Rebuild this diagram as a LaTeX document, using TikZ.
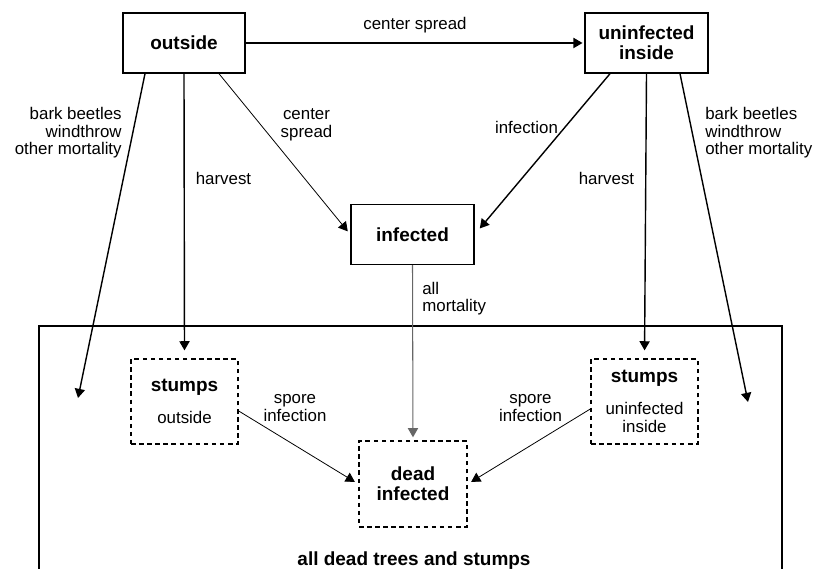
\documentclass[tikz,border=0pt]{standalone}
\usepackage{fontspec}
\setmainfont{Liberation Sans}
\usetikzlibrary{arrows.meta}

\newcommand{\poolname}[1]{{\fontsize{10.8}{11.5}\selectfont\bfseries #1}}

\tikzset{
	box/.style={draw, line width=0.8pt, minimum width=2.44cm, minimum height=1.2cm, align=center, font=\fontsize{10.8}{11.5}\selectfont\bfseries},
	pool/.style={draw, line width=0.8pt, dash pattern=on 2.6pt off 2pt, minimum width=2.14cm, minimum height=1.7cm, align=center, font=\fontsize{9.6}{10}\selectfont},
	flow/.style={line width=0.8pt, -{Triangle[length=5.2pt,width=5.8pt]}, shorten >=4.5pt},
	thinflow/.style={line width=0.45pt, -{Triangle[length=5.2pt,width=5.8pt]}, shorten >=2.3pt},
	lbl/.style={font=\fontsize{9.6}{10}\selectfont, align=center, inner sep=0pt}
}

\begin{document}
\begin{tikzpicture}
		\useasboundingbox (0,0) rectangle (16.28,11.38);
		
		% Arvores em pe
		\node[box] (outside) at (3.68,10.52) {outside};
		\node[box, minimum width=2.46cm] (uninf) at (12.93,10.52) {uninfected\\inside};
		\node[box, minimum width=2.46cm] (infected) at (8.25,6.69) {infected};
		
		% Caixa das arvores mortas e tocos
		\draw[line width=0.8pt] (0.78,-0.1) -- (0.78,4.86) -- (15.64,4.86) -- (15.64,-0.1);
		\node[pool] (stumpsout) at (3.69,3.35) {\poolname{stumps}\\[8pt]outside};
		\node[pool] (stumpsin) at (12.89,3.35) {\poolname{stumps}\\[8pt]uninfected\\inside};
		\node[pool, minimum width=2.16cm, minimum height=1.72cm, font=\fontsize{10.8}{11.5}\selectfont\bfseries] (dead) at (8.26,1.70) {dead\\infected};
		\node[font=\fontsize{10.8}{11.5}\selectfont\bfseries, anchor=base] (alldead) at (8.28,0.06) {all dead trees and stumps};
		
		% Pontas livres das setas de mortalidade
		\coordinate (leftdrop) at (1.56,3.42);
		\coordinate (rightdrop) at (14.96,3.34);
		
		% Setas
		\draw[flow, shorten >=1pt] (outside.east) -- node[lbl, above=5pt] (csh) {center spread} (uninf.west);
		\draw[flow, shorten >=0pt] ([xshift=-0.78cm]outside.south) -- (leftdrop);
		\draw[flow] (outside.south) -- (stumpsout.north);
		\draw[thinflow] ([xshift=0.7cm]outside.south) -- (infected.west);
		\draw[flow] ([xshift=-0.73cm]uninf.south) -- (infected.east);
		\draw[flow] (uninf.south) -- (stumpsin.north);
		\draw[flow, shorten >=0pt] ([xshift=0.67cm]uninf.south) -- (rightdrop);
		\draw[line width=0.6pt, black!60, -{Triangle[length=5.2pt,width=5.8pt]}, shorten >=1.7pt] (infected.south) -- (dead.north);
		\draw[thinflow] ([yshift=-0.19cm]stumpsout.east) -- (dead.west);
		\draw[thinflow] ([yshift=-0.15cm]stumpsin.west) -- (dead.east);
		
		% Rotulos
		\node[lbl, align=right, anchor=east] (bbl) at (2.44,8.72) {bark beetles\\windthrow\\other mortality};
		\node[lbl] (hvl) at (4.47,7.82) {harvest};
		\node[lbl] (csl) at (6.13,8.88) {center\\spread};
		\node[lbl] (infl) at (10.53,8.84) {infection};
		\node[lbl] (hvr) at (12.13,7.82) {harvest};
		\node[lbl, align=left, anchor=west] (bbr) at (14.1,8.72) {bark beetles\\windthrow\\other mortality};
		\node[lbl, align=left, anchor=west] (allm) at (8.44,5.41) {all\\mortality};
		\node[lbl] (spl) at (5.9,3.22) {spore\\infection};
		\node[lbl] (spr) at (10.61,3.22) {spore\\infection};

	\end{tikzpicture}
\end{document}
